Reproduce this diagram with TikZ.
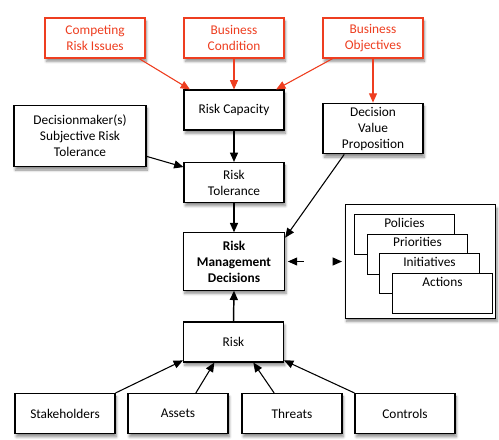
\documentclass[tikz,border=0pt]{standalone}
\usepackage{fontspec}
\setmainfont{Carlito}
\usetikzlibrary{arrows.meta,shadows.blur}
\definecolor{riskred}{RGB}{238,62,32}
\tikzset{
    box/.style={draw, fill=white, line width=0.8pt, align=center, font=\fontsize{10}{12}\selectfont,
        minimum width=75pt, minimum height=30pt, inner sep=2pt,
        blur shadow={shadow xshift=1pt, shadow yshift=-2.5pt, shadow blur steps=6, shadow opacity=45}},
    redbox/.style={box, draw=riskred, text=riskred},
    card/.style={draw, fill=white, line width=0.7pt, anchor=north west, font=\fontsize{10}{12}\selectfont,
        minimum width=75pt, text height=7pt, text depth=18pt, inner ysep=2.5pt},
    arr/.style={-{Triangle[length=7pt,width=6pt]}, line width=1.1pt},
    redarr/.style={-{Triangle[length=7pt,width=6pt]}, line width=0.8pt, draw=riskred, fill=riskred}
}
\begin{document}
\begin{tikzpicture}[x=0.75pt, y=-0.75pt]
        \useasboundingbox (0,0) rectangle (499,439);
        % inputs at the top
        \node[redbox] (comp) at (95,38) {Competing\\Risk Issues};
        \node[redbox] (cond) at (234,38) {Business\\Condition};
        \node[redbox] (obj) at (373,38) {Business\\Objectives};

        \node[box] (cap) at (234,110) {Risk Capacity};
        \node[box, minimum height=38pt] (dvp) at (373,128.5) {Decision\\Value\\Proposition};
        \node[box, minimum width=99pt, minimum height=46pt] (dm) at (80,136) {Decisionmaker(s)\\Subjective Risk\\Tolerance};
        \node[box] (tol) at (234,182.5) {Risk\\Tolerance};
        \node[box, minimum width=76pt, minimum height=43pt, font=\fontsize{10}{12}\selectfont\bfseries] (rmd) at (234,261.5) {Risk\\Management\\Decisions};

        % stack of outcomes
        \node[box, minimum width=113pt, minimum height=85pt] (panel) at (420.5,261.5) {};
        \node[card] (pol) at (354,214) {Policies};
        \node[card] (pri) at (367,233.5) {Priorities};
        \node[card] (ini) at (379,253) {Initiatives};
        \node[card] (act) at (392,273) {Actions};

        \node[box] (risk) at (233.5,342) {Risk};
        \node[box] (sh) at (65,413.5) {Stakeholders};
        \node[box] (as) at (178,413.5) {Assets};
        \node[box] (th) at (292,413.5) {Threats};
        \node[box] (co) at (405,413.5) {Controls};

        \draw[redarr] (comp.-25) -- (cap.155);
        \draw[redarr] (cond.south) -- (cap.north);
        \draw[redarr] (obj.-153) -- (cap.26);
        \draw[redarr] (obj.south) -- (dvp.north);

        \draw[arr] (cap.south) -- (tol.north);
        \draw[arr, line width=0.8pt] (dm.-17) -- (tol.163);
        \draw[arr] (tol.south) -- (rmd.north);
        \draw[arr, line width=0.8pt] (dvp.-138) -- (rmd.25);
        \draw[{Triangle[length=7pt,width=6pt]}-{Triangle[length=7pt,width=6pt]}, line width=0.8pt,
            dash pattern=on 5pt off 100pt, shorten <=2pt, shorten >=2pt] (rmd.east) -- (panel.west);
        \draw[arr] (risk.north) -- (rmd.south);

        \draw[arr, line width=0.8pt] (sh.north east) -- (risk.-160);
        \draw[arr, line width=0.8pt] (as.49) -- (risk.-133);
        \draw[arr, line width=0.8pt] (th.131) -- (risk.-46);
        \draw[arr, line width=0.8pt] (co.north west) -- (risk.-20);
    \end{tikzpicture}
\end{document}
